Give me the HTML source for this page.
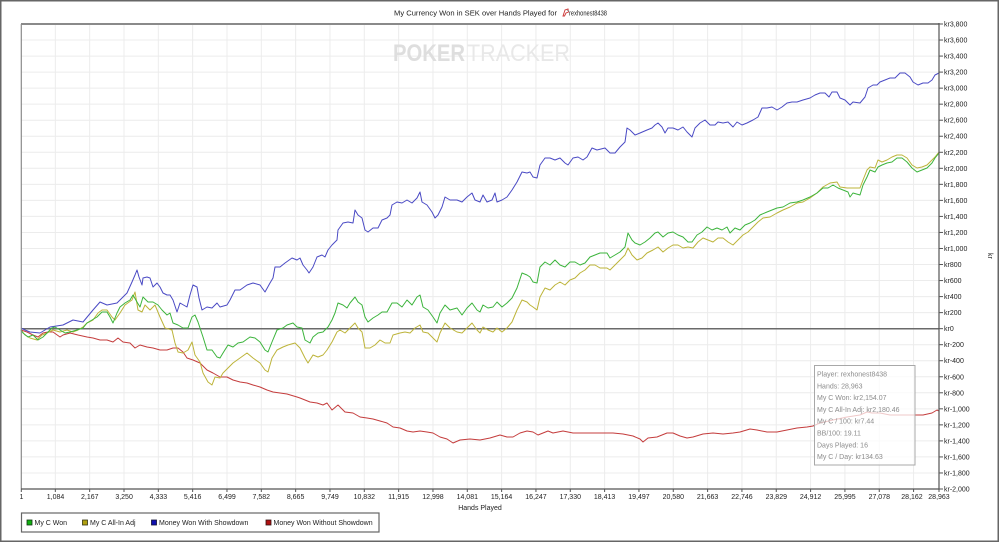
<!DOCTYPE html>
<html><head><meta charset="utf-8"><style>
html,body{margin:0;padding:0;background:#fff;}
svg{display:block;}
text{font-family:"Liberation Sans",Arial,sans-serif;}
</style></head><body>
<svg width="1000" height="543" viewBox="0 0 1000 543" xmlns="http://www.w3.org/2000/svg">
<rect x="0" y="0" width="1000" height="543" fill="#fff"/>
<rect x="0.75" y="0.75" width="997.5" height="540.5" fill="none" stroke="#666" stroke-width="1.5"/>

<!-- title -->
<text x="394" y="15.5" font-size="7.6" fill="#222" textLength="163" lengthAdjust="spacingAndGlyphs">My Currency Won in SEK over Hands Played for</text>
<g transform="translate(562,9)"><path d="M1,7 L3,1 L6,0 L6.5,3 L4,4 L2.5,7 Z" fill="none" stroke="#c33" stroke-width="0.9"/><path d="M5,1 L7,2" stroke="#888" stroke-width="0.8"/></g>
<text x="569" y="15.5" font-size="7.6" fill="#222" textLength="38" lengthAdjust="spacingAndGlyphs">rexhonest8438</text>

<!-- grid -->
<g stroke="#ececec" stroke-width="1" id="grid">
<line x1="21" y1="40.03" x2="939" y2="40.03"/><line x1="21" y1="56.07" x2="939" y2="56.07"/><line x1="21" y1="72.10" x2="939" y2="72.10"/><line x1="21" y1="88.14" x2="939" y2="88.14"/><line x1="21" y1="104.17" x2="939" y2="104.17"/><line x1="21" y1="120.21" x2="939" y2="120.21"/><line x1="21" y1="136.24" x2="939" y2="136.24"/><line x1="21" y1="152.28" x2="939" y2="152.28"/><line x1="21" y1="168.31" x2="939" y2="168.31"/><line x1="21" y1="184.34" x2="939" y2="184.34"/><line x1="21" y1="200.38" x2="939" y2="200.38"/><line x1="21" y1="216.41" x2="939" y2="216.41"/><line x1="21" y1="232.45" x2="939" y2="232.45"/><line x1="21" y1="248.48" x2="939" y2="248.48"/><line x1="21" y1="264.52" x2="939" y2="264.52"/><line x1="21" y1="280.55" x2="939" y2="280.55"/><line x1="21" y1="296.59" x2="939" y2="296.59"/><line x1="21" y1="312.62" x2="939" y2="312.62"/><line x1="21" y1="344.69" x2="939" y2="344.69"/><line x1="21" y1="360.72" x2="939" y2="360.72"/><line x1="21" y1="376.76" x2="939" y2="376.76"/><line x1="21" y1="392.79" x2="939" y2="392.79"/><line x1="21" y1="408.83" x2="939" y2="408.83"/><line x1="21" y1="424.86" x2="939" y2="424.86"/><line x1="21" y1="440.90" x2="939" y2="440.90"/><line x1="21" y1="456.93" x2="939" y2="456.93"/><line x1="21" y1="472.97" x2="939" y2="472.97"/>
<line x1="55.33" y1="24" x2="55.33" y2="489"/><line x1="89.66" y1="24" x2="89.66" y2="489"/><line x1="123.99" y1="24" x2="123.99" y2="489"/><line x1="158.32" y1="24" x2="158.32" y2="489"/><line x1="192.65" y1="24" x2="192.65" y2="489"/><line x1="226.98" y1="24" x2="226.98" y2="489"/><line x1="261.31" y1="24" x2="261.31" y2="489"/><line x1="295.64" y1="24" x2="295.64" y2="489"/><line x1="329.97" y1="24" x2="329.97" y2="489"/><line x1="364.30" y1="24" x2="364.30" y2="489"/><line x1="398.63" y1="24" x2="398.63" y2="489"/><line x1="432.96" y1="24" x2="432.96" y2="489"/><line x1="467.29" y1="24" x2="467.29" y2="489"/><line x1="501.62" y1="24" x2="501.62" y2="489"/><line x1="535.95" y1="24" x2="535.95" y2="489"/><line x1="570.28" y1="24" x2="570.28" y2="489"/><line x1="604.61" y1="24" x2="604.61" y2="489"/><line x1="638.94" y1="24" x2="638.94" y2="489"/><line x1="673.27" y1="24" x2="673.27" y2="489"/><line x1="707.60" y1="24" x2="707.60" y2="489"/><line x1="741.93" y1="24" x2="741.93" y2="489"/><line x1="776.26" y1="24" x2="776.26" y2="489"/><line x1="810.59" y1="24" x2="810.59" y2="489"/><line x1="844.92" y1="24" x2="844.92" y2="489"/><line x1="879.25" y1="24" x2="879.25" y2="489"/><line x1="913.58" y1="24" x2="913.58" y2="489"/>
</g>

<!-- watermark -->
<text x="393" y="61" font-size="24" font-weight="bold" fill="#dedede" textLength="72" lengthAdjust="spacingAndGlyphs">POKER</text>
<text x="467" y="61" font-size="24" fill="#e8e8e8" textLength="103" lengthAdjust="spacingAndGlyphs">TRACKER</text>

<!-- zero line -->
<line x1="21" y1="328.7" x2="939" y2="328.7" stroke="#6a6a6a" stroke-width="1.5"/>

<!-- series -->
<g fill="none" stroke-width="1" stroke-linejoin="round">
<polyline stroke="#4a4ac4" points="21,328 25,330 30,332 40,333 50,327 63,325 73,320 83,322 93,310 100,302 107,305 117,303 120,300 127,293 132,282 135,275 137,270 139,277 142,285 143,278 147,277 150,278 153,287 157,283 160,287 163,293 167,295 170,295 173,300 177,312 180,303 187,307 190,295 193,285 197,287 199,298 202,310 207,307 212,308 217,303 220,307 227,305 230,300 235,290 240,290 247,285 253,283 260,285 265,292 270,283 273,278 275,267 280,267 285,263 292,258 297,260 300,258 303,265 307,270 309,273 313,267 317,257 322,255 325,257 328,250 332,245 337,240 338,230 343,223 348,222 353,223 355,210 358,215 362,218 365,230 368,232 373,228 378,228 382,220 387,218 390,215 392,205 397,202 402,203 407,200 412,203 417,198 420,192 422,202 427,205 432,212 435,218 438,215 442,207 445,197 450,200 457,200 462,202 467,197 472,193 475,200 480,202 483,195 487,202 492,200 495,193 497,202 502,200 507,197 512,190 517,182 522,172 527,173 530,172 533,177 537,178 540,165 545,158 550,158 555,160 560,158 565,163 568,165 573,158 578,157 583,160 587,157 592,148 597,150 605,148 610,153 615,153 620,147 625,142 627,128 630,130 635,135 640,133 647,130 652,128 655,125 658,123 662,127 665,133 668,128 673,128 678,130 683,127 687,132 692,137 695,128 700,123 705,120 710,125 715,125 718,122 723,123 728,122 733,127 737,122 742,125 747,123 753,120 758,117 762,108 767,108 772,107 777,110 782,107 787,103 792,102 797,102 803,100 810,98 815,95 820,93 825,93 829,97 832,92 837,92 840,98 845,100 850,105 853,102 860,103 865,97 868,88 873,85 877,85 880,82 885,80 890,78 895,78 900,73 905,73 910,77 913,82 918,85 923,83 928,83 932,80 935,75 939,73"/>
<polyline stroke="#c43c3c" points="21,330 27,332 33,335 38,337 43,333 48,332 53,332 60,337 63,335 70,333 78,335 87,337 93,338 100,340 107,340 113,342 118,338 123,342 130,343 135,348 140,345 147,347 153,348 160,350 167,350 173,348 178,348 183,352 187,358 193,360 200,363 207,370 213,373 220,377 227,377 233,380 240,382 247,383 253,385 260,387 267,390 273,392 280,393 287,394 297,397 300,398 305,400 310,402 317,403 323,405 327,403 332,410 338,405 345,412 353,413 360,417 367,418 373,419 380,421 387,423 393,427 400,428 407,431 413,432 420,431 427,432 433,433 440,437 447,439 453,443 460,440 470,439 480,440 490,438 500,435 507,437 513,437 520,433 527,431 533,432 538,435 543,433 548,431 553,433 563,431 573,433 583,433 593,433 603,433 613,433 623,434 633,436 640,439 643,442 648,438 657,437 667,433 673,433 680,436 687,438 693,437 703,434 713,433 723,434 733,433 740,432 750,429 757,430 767,432 777,432 787,430 797,428 807,427 813,426 820,423 833,420 847,417 860,415 867,412 872,413 880,413 890,415 900,415 910,415 923,415 932,413 937,410 939,411"/>
<polyline stroke="#bdb43a" points="21,330 25,335 30,338 37,340 42,335 47,333 53,330 60,332 67,330 73,332 78,330 83,327 87,323 93,320 98,313 102,310 107,310 112,317 115,320 120,313 125,305 132,300 135,292 138,310 142,312 145,305 150,310 155,305 160,317 165,328 172,330 175,343 178,352 183,353 188,350 192,342 195,355 200,362 203,373 208,382 212,385 215,377 220,378 223,373 228,368 233,363 240,358 247,353 253,358 260,363 265,370 268,372 272,358 277,350 283,347 288,345 295,343 300,348 305,358 308,363 313,355 318,357 323,355 327,350 332,342 337,332 340,330 345,333 350,328 355,323 358,328 362,332 365,348 370,348 375,345 380,340 385,343 390,343 393,335 400,333 405,332 410,333 415,328 420,325 423,332 428,333 433,338 437,342 440,333 445,323 450,328 457,332 462,333 467,328 472,323 477,330 480,333 483,327 488,330 493,332 497,328 502,332 507,328 512,322 517,310 522,300 527,302 530,305 533,307 537,310 540,297 545,288 550,290 555,285 560,282 565,285 570,280 575,278 580,273 585,270 590,265 595,265 600,268 607,268 610,270 615,265 620,260 625,255 628,248 632,255 637,260 642,258 647,253 653,250 658,247 663,252 668,248 673,245 678,245 683,248 688,247 693,248 698,242 703,238 708,240 713,242 718,238 723,238 728,242 733,245 738,240 743,235 748,232 753,227 758,222 763,218 770,217 777,213 783,210 790,207 797,203 803,202 810,198 817,193 823,187 830,183 837,182 840,187 847,188 853,188 860,188 863,180 867,170 870,167 875,168 878,160 882,162 887,160 892,157 897,155 902,155 907,158 912,165 917,168 922,167 927,165 932,160 935,157 939,152"/>
<polyline stroke="#3cb43c" points="21,330 23,333 28,337 33,335 38,340 43,337 48,332 52,328 55,327 60,330 65,333 70,332 77,330 83,328 87,323 92,320 97,317 102,312 107,312 110,317 113,323 117,313 120,307 125,303 130,300 133,295 137,302 140,307 143,297 148,302 153,302 158,305 162,310 167,315 170,313 173,323 178,325 183,328 188,328 192,317 195,315 198,322 203,337 207,350 212,350 217,357 220,358 223,353 228,345 233,347 238,343 243,342 250,337 255,338 260,342 265,350 268,352 272,342 277,330 283,328 287,325 293,323 297,327 302,328 305,340 310,343 313,337 318,333 323,332 328,327 332,320 335,313 338,303 343,305 347,308 350,303 355,297 358,302 362,305 365,317 368,322 373,318 378,315 382,312 387,312 392,303 397,303 402,307 407,300 412,305 417,297 420,295 423,307 428,310 433,317 437,323 440,313 445,305 450,310 457,308 462,315 467,308 472,303 477,310 480,312 483,305 488,308 493,307 497,302 502,307 507,303 512,298 517,288 522,273 527,275 530,277 533,282 537,283 540,267 545,262 550,265 555,260 560,265 565,267 570,262 575,262 580,265 585,263 590,257 595,255 600,253 607,253 610,258 615,255 620,252 625,247 628,233 632,240 635,243 640,245 645,242 650,238 655,233 658,232 663,237 668,233 673,232 678,235 683,237 688,242 692,242 697,235 702,232 707,227 712,230 717,228 722,230 727,227 730,233 735,228 740,230 745,225 750,223 755,220 760,215 767,212 772,210 777,208 783,207 790,203 797,202 803,200 810,197 817,193 823,188 828,188 833,185 838,188 843,190 848,192 850,197 853,193 860,195 863,185 867,177 870,170 875,172 878,167 882,165 887,163 892,162 897,158 902,158 907,162 912,168 917,172 922,170 927,168 932,163 935,158 939,153"/>
</g>

<!-- plot frame -->
<line x1="21" y1="24" x2="939" y2="24" stroke="#8a8a8a" stroke-width="2"/>
<line x1="21.3" y1="24" x2="21.3" y2="489" stroke="#8a8a8a" stroke-width="1.2"/>
<line x1="939" y1="23" x2="939" y2="490" stroke="#555" stroke-width="1.2"/>
<line x1="21" y1="489" x2="939" y2="489" stroke="#555" stroke-width="1.2"/>

<!-- right axis ticks/labels -->
<g stroke="#555" stroke-width="1">
<line x1="939" y1="24" x2="943" y2="24"/><line x1="939" y1="40.03" x2="943" y2="40.03"/><line x1="939" y1="56.07" x2="943" y2="56.07"/><line x1="939" y1="72.10" x2="943" y2="72.10"/><line x1="939" y1="88.14" x2="943" y2="88.14"/><line x1="939" y1="104.17" x2="943" y2="104.17"/><line x1="939" y1="120.21" x2="943" y2="120.21"/><line x1="939" y1="136.24" x2="943" y2="136.24"/><line x1="939" y1="152.28" x2="943" y2="152.28"/><line x1="939" y1="168.31" x2="943" y2="168.31"/><line x1="939" y1="184.34" x2="943" y2="184.34"/><line x1="939" y1="200.38" x2="943" y2="200.38"/><line x1="939" y1="216.41" x2="943" y2="216.41"/><line x1="939" y1="232.45" x2="943" y2="232.45"/><line x1="939" y1="248.48" x2="943" y2="248.48"/><line x1="939" y1="264.52" x2="943" y2="264.52"/><line x1="939" y1="280.55" x2="943" y2="280.55"/><line x1="939" y1="296.59" x2="943" y2="296.59"/><line x1="939" y1="312.62" x2="943" y2="312.62"/><line x1="939" y1="328.66" x2="943" y2="328.66"/><line x1="939" y1="344.69" x2="943" y2="344.69"/><line x1="939" y1="360.72" x2="943" y2="360.72"/><line x1="939" y1="376.76" x2="943" y2="376.76"/><line x1="939" y1="392.79" x2="943" y2="392.79"/><line x1="939" y1="408.83" x2="943" y2="408.83"/><line x1="939" y1="424.86" x2="943" y2="424.86"/><line x1="939" y1="440.90" x2="943" y2="440.90"/><line x1="939" y1="456.93" x2="943" y2="456.93"/><line x1="939" y1="472.97" x2="943" y2="472.97"/><line x1="939" y1="489" x2="943" y2="489"/>
</g>
<g font-size="7" fill="#222">
<text x="944" y="26.5">kr3,800</text><text x="944" y="42.5">kr3,600</text><text x="944" y="58.6">kr3,400</text><text x="944" y="74.6">kr3,200</text><text x="944" y="90.6">kr3,000</text><text x="944" y="106.7">kr2,800</text><text x="944" y="122.7">kr2,600</text><text x="944" y="138.7">kr2,400</text><text x="944" y="154.8">kr2,200</text><text x="944" y="170.8">kr2,000</text><text x="944" y="186.8">kr1,800</text><text x="944" y="202.9">kr1,600</text><text x="944" y="218.9">kr1,400</text><text x="944" y="234.9">kr1,200</text><text x="944" y="251">kr1,000</text><text x="944" y="267">kr800</text><text x="944" y="283">kr600</text><text x="944" y="299.1">kr400</text><text x="944" y="315.1">kr200</text><text x="944" y="331.2">kr0</text><text x="944" y="347.2">kr-200</text><text x="944" y="363.2">kr-400</text><text x="944" y="379.3">kr-600</text><text x="944" y="395.3">kr-800</text><text x="944" y="411.3">kr-1,000</text><text x="944" y="427.4">kr-1,200</text><text x="944" y="443.4">kr-1,400</text><text x="944" y="459.4">kr-1,600</text><text x="944" y="475.5">kr-1,800</text><text x="944" y="491.5">kr-2,000</text>
</g>
<text x="0" y="0" font-size="7" fill="#222" transform="translate(988,253) rotate(90)">kr</text>

<!-- x ticks/labels -->
<g stroke="#555" stroke-width="1">
<line x1="21.3" y1="489" x2="21.3" y2="492"/><line x1="55.33" y1="489" x2="55.33" y2="492"/><line x1="89.66" y1="489" x2="89.66" y2="492"/><line x1="123.99" y1="489" x2="123.99" y2="492"/><line x1="158.32" y1="489" x2="158.32" y2="492"/><line x1="192.65" y1="489" x2="192.65" y2="492"/><line x1="226.98" y1="489" x2="226.98" y2="492"/><line x1="261.31" y1="489" x2="261.31" y2="492"/><line x1="295.64" y1="489" x2="295.64" y2="492"/><line x1="329.97" y1="489" x2="329.97" y2="492"/><line x1="364.30" y1="489" x2="364.30" y2="492"/><line x1="398.63" y1="489" x2="398.63" y2="492"/><line x1="432.96" y1="489" x2="432.96" y2="492"/><line x1="467.29" y1="489" x2="467.29" y2="492"/><line x1="501.62" y1="489" x2="501.62" y2="492"/><line x1="535.95" y1="489" x2="535.95" y2="492"/><line x1="570.28" y1="489" x2="570.28" y2="492"/><line x1="604.61" y1="489" x2="604.61" y2="492"/><line x1="638.94" y1="489" x2="638.94" y2="492"/><line x1="673.27" y1="489" x2="673.27" y2="492"/><line x1="707.60" y1="489" x2="707.60" y2="492"/><line x1="741.93" y1="489" x2="741.93" y2="492"/><line x1="776.26" y1="489" x2="776.26" y2="492"/><line x1="810.59" y1="489" x2="810.59" y2="492"/><line x1="844.92" y1="489" x2="844.92" y2="492"/><line x1="879.25" y1="489" x2="879.25" y2="492"/><line x1="913.58" y1="489" x2="913.58" y2="492"/><line x1="939" y1="489" x2="939" y2="492"/>
</g>
<g font-size="7" fill="#222" text-anchor="middle">
<text x="21.5" y="499">1</text><text x="55.5" y="499">1,084</text><text x="89.8" y="499">2,167</text><text x="124.1" y="499">3,250</text><text x="158.4" y="499">4,333</text><text x="192.7" y="499">5,416</text><text x="227" y="499">6,499</text><text x="261.3" y="499">7,582</text><text x="295.6" y="499">8,665</text><text x="330" y="499">9,749</text><text x="364.3" y="499">10,832</text><text x="398.6" y="499">11,915</text><text x="433" y="499">12,998</text><text x="467.3" y="499">14,081</text><text x="501.6" y="499">15,164</text><text x="536" y="499">16,247</text><text x="570.3" y="499">17,330</text><text x="604.6" y="499">18,413</text><text x="639" y="499">19,497</text><text x="673.3" y="499">20,580</text><text x="707.6" y="499">21,663</text><text x="742" y="499">22,746</text><text x="776.3" y="499">23,829</text><text x="810.6" y="499">24,912</text><text x="845" y="499">25,995</text><text x="879.3" y="499">27,078</text><text x="912" y="499">28,162</text><text x="939" y="499">28,963</text>
</g>
<text x="480" y="510" font-size="7" fill="#222" text-anchor="middle">Hands Played</text>

<!-- legend -->
<rect x="21.5" y="513" width="357.5" height="19" fill="#fff" stroke="#666" stroke-width="1.2"/>
<g font-size="7" fill="#222">
<rect x="27" y="520" width="5" height="5" fill="#10b010" stroke="#113311" stroke-width="0.8"/><text x="34.5" y="525">My C Won</text>
<rect x="82.5" y="520" width="5" height="5" fill="#b0a010" stroke="#333311" stroke-width="0.8"/><text x="90" y="525">My C All-In Adj</text>
<rect x="151.5" y="520" width="5" height="5" fill="#1010b0" stroke="#111133" stroke-width="0.8"/><text x="159" y="525">Money Won With Showdown</text>
<rect x="266" y="520" width="5" height="5" fill="#b01010" stroke="#331111" stroke-width="0.8"/><text x="273.5" y="525">Money Won Without Showdown</text>
</g>

<!-- info box -->
<rect x="814.5" y="365.5" width="100.5" height="99.5" fill="#fff" fill-opacity="0.72" stroke="#a8a8a8" stroke-width="1"/>
<g font-size="7" fill="#8c8c8c">
<text x="817" y="376.5">Player: rexhonest8438</text>
<text x="817" y="388.3">Hands: 28,963</text>
<text x="817" y="400.1">My C Won: kr2,154.07</text>
<text x="817" y="411.9">My C All-In Adj: kr2,180.46</text>
<text x="817" y="423.7">My C / 100: kr7.44</text>
<text x="817" y="435.5">BB/100: 19.11</text>
<text x="817" y="447.3">Days Played: 16</text>
<text x="817" y="459.1">My C / Day: kr134.63</text>
</g>
</svg>
</body></html>
